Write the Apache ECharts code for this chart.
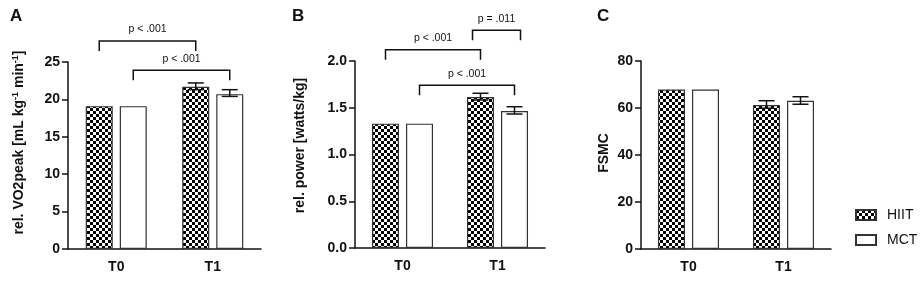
<!DOCTYPE html>
<html>
<head>
<meta charset="utf-8">
<script src="https://cdn.jsdelivr.net/npm/echarts@6/dist/echarts.min.js"></script>
<style>
  html, body { margin: 0; padding: 0; background: #fff; }
  #main { width: 924px; height: 284px; }
</style>
</head>
<body>
<div id="main"></div>
<script>
// ---- data ----
var categories = ['T0', 'T1'];

// panel A: rel. VO2peak
var vo2Hiit = [19.1, 21.7];
var vo2Mct = [19.1, 20.7];
var vo2HiitErr = [[19.1, 19.1], [21.3, 22.2]];
var vo2MctErr = [[19.1, 19.1], [20.4, 21.3]];

// panel B: rel. power
var powHiit = [1.33, 1.615];
var powMct = [1.33, 1.465];
var powHiitErr = [[1.33, 1.33], [1.583, 1.655]];
var powMctErr = [[1.33, 1.33], [1.433, 1.511]];

// panel C: FSMC
var fsmcHiit = [67.9, 61.3];
var fsmcMct = [67.9, 63.1];
var fsmcHiitErr = [[67.9, 67.9], [59.9, 63.1]];
var fsmcMctErr = [[67.9, 67.9], [61.6, 64.8]];

// brackets: [category, group(0 HIIT / 1 MCT)] -> [category, group], bracket height, label
var vo2Brackets = [[0, 0, 1, 0, 27.8, 'p < .001'], [0, 1, 1, 1, 23.9, 'p < .001']];
var powBrackets = [[0, 0, 1, 0, 2.12, 'p < .001'], [0, 1, 1, 1, 1.74, 'p < .001'], [1, 0, 1, 1, 2.33, 'p = .011']];

var legendNames = ['HIIT', 'MCT'];

// ---- chart ----
var chart = echarts.init(document.getElementById('main'));

var pat = document.createElement('canvas');
pat.width = 6; pat.height = 6;
var pctx = pat.getContext('2d');
pctx.fillStyle = '#fff';
pctx.fillRect(0, 0, 6, 6);
pctx.fillStyle = '#000';
pctx.fillRect(0, 0, 3, 3);
pctx.fillRect(3, 3, 3, 3);
var checker = { image: pat, repeat: 'repeat' };

var BAR_W = 27;
var HALF = 17; // offset of bar centre from category centre
var ink = '#111';
var font = 'Liberation Sans, Arial';

function errRender(errs, side) {
    return function (params, api) {
        var e = errs[params.dataIndex];
        if (e[0] === e[1]) return;
        var x = api.coord([params.dataIndex, 0])[0] + side * HALF;
        var lo = api.coord([params.dataIndex, e[0]])[1];
        var hi = api.coord([params.dataIndex, e[1]])[1];
        var cw = 8;
        var st = { stroke: ink, lineWidth: 1.5 };
        return {
            type: 'group',
            children: [
                { type: 'line', shape: { x1: x, y1: lo, x2: x, y2: hi }, style: st },
                { type: 'line', shape: { x1: x - cw, y1: lo, x2: x + cw, y2: lo }, style: st },
                { type: 'line', shape: { x1: x - cw, y1: hi, x2: x + cw, y2: hi }, style: st }
            ]
        };
    };
}

function bracketRender(list) {
    return function (params, api) {
        var b = list[params.dataIndex];
        var x1 = api.coord([b[0], 0])[0] + (b[1] ? HALF : -HALF);
        var x2 = api.coord([b[2], 0])[0] + (b[3] ? HALF : -HALF);
        // a bracket between the two bars of one category is drawn a little wider
        if (b[0] === b[2]) { x1 -= 8; x2 += 6; }
        var y = api.coord([0, b[4]])[1];
        var leg = 10;
        var st = { stroke: ink, lineWidth: 1.5, fill: null };
        return {
            type: 'group',
            children: [
                { type: 'polyline', shape: { points: [[x1, y + leg], [x1, y], [x2, y], [x2, y + leg]] }, style: st },
                { type: 'text', style: { text: b[5], x: (x1 + x2) / 2, y: y - 6, align: 'center', verticalAlign: 'bottom',
                    fontSize: 10.5, fontFamily: font, fill: ink } }
            ]
        };
    };
}

function makeX(i) {
    return {
        type: 'category', gridIndex: i, data: categories,
        axisLine: { lineStyle: { color: ink, width: 1.5 } },
        axisTick: { alignWithLabel: true, length: 6, lineStyle: { color: ink, width: 1.5 } },
        axisLabel: { color: ink, fontWeight: 'bold', fontSize: 14, margin: 11, fontFamily: font }
    };
}

function makeY(i, max, interval, name, gap, shift, fmt) {
    return {
        type: 'value', gridIndex: i, min: 0, max: max, interval: interval,
        name: name, nameLocation: 'middle', nameGap: gap,
        nameTextStyle: { color: ink, fontWeight: 'bold', fontSize: 14, fontFamily: font,
            padding: [0, 0, 0, shift],
            rich: {
                a: { color: ink, fontWeight: 'bold', fontSize: 14, fontFamily: font },
                s: { color: ink, fontWeight: 'bold', fontSize: 9, fontFamily: font, padding: [0, 0, 8, 0] }
            } },
        splitLine: { show: false },
        axisLine: { show: true, lineStyle: { color: ink, width: 1.5 } },
        axisTick: { show: true, length: 6, lineStyle: { color: ink, width: 1.5 } },
        axisLabel: { color: ink, fontWeight: 'bold', fontSize: 14, margin: 8, fontFamily: font, formatter: fmt }
    };
}

function barSeries(i, name, data) {
    return {
        type: 'bar', name: name, xAxisIndex: i, yAxisIndex: i, data: data,
        barWidth: BAR_W, barGap: '26%',
        itemStyle: { color: name === 'HIIT' ? checker : '#fff', borderColor: '#333', borderWidth: 1.2 },
        emphasis: { disabled: true }
    };
}

function customSeries(i, n, render, z) {
    var d = [];
    for (var k = 0; k < n; k++) d.push([k, 0]);
    return { type: 'custom', xAxisIndex: i, yAxisIndex: i, data: d, renderItem: render, z: z, silent: true };
}

var option = {
    animation: false,
    textStyle: { fontFamily: font },
    title: [
        { text: 'A', left: 10, top: 8, padding: 0, textStyle: { fontSize: 17, fontWeight: 'bold', color: ink } },
        { text: 'B', left: 292, top: 8, padding: 0, textStyle: { fontSize: 17, fontWeight: 'bold', color: ink } },
        { text: 'C', left: 597, top: 8, padding: 0, textStyle: { fontSize: 17, fontWeight: 'bold', color: ink } }
    ],
    legend: {
        data: legendNames, orient: 'vertical', left: 855, top: 208, padding: 0,
        itemWidth: 20, itemHeight: 10, itemGap: 11, icon: 'rect',
        textStyle: { fontSize: 14, color: ink, padding: [0, 0, 0, 6] }
    },
    grid: [
        { left: 68, top: 62, width: 193, height: 187 },
        { left: 355, top: 61, width: 190, height: 187 },
        { left: 641, top: 61, width: 190, height: 188 }
    ],
    xAxis: [makeX(0), makeX(1), makeX(2)],
    yAxis: [
        makeY(0, 25, 5, '{a|rel. VO2peak [mL kg}{s|-1}{a| min}{s|-1}{a|]}', 40, 26),
        makeY(1, 2, 0.5, 'rel. power [watts/kg]', 48, 18, function (v) { return v.toFixed(1); }),
        makeY(2, 80, 20, 'FSMC', 30, 4)
    ],
    series: [
        barSeries(0, 'HIIT', vo2Hiit), barSeries(0, 'MCT', vo2Mct),
        customSeries(0, 2, errRender(vo2HiitErr, -1), 5), customSeries(0, 2, errRender(vo2MctErr, 1), 5),
        customSeries(0, vo2Brackets.length, bracketRender(vo2Brackets), 5),
        barSeries(1, 'HIIT', powHiit), barSeries(1, 'MCT', powMct),
        customSeries(1, 2, errRender(powHiitErr, -1), 5), customSeries(1, 2, errRender(powMctErr, 1), 5),
        customSeries(1, powBrackets.length, bracketRender(powBrackets), 5),
        barSeries(2, 'HIIT', fsmcHiit), barSeries(2, 'MCT', fsmcMct),
        customSeries(2, 2, errRender(fsmcHiitErr, -1), 5), customSeries(2, 2, errRender(fsmcMctErr, 1), 5)
    ]
};

chart.setOption(option);
</script>
</body>
</html>
